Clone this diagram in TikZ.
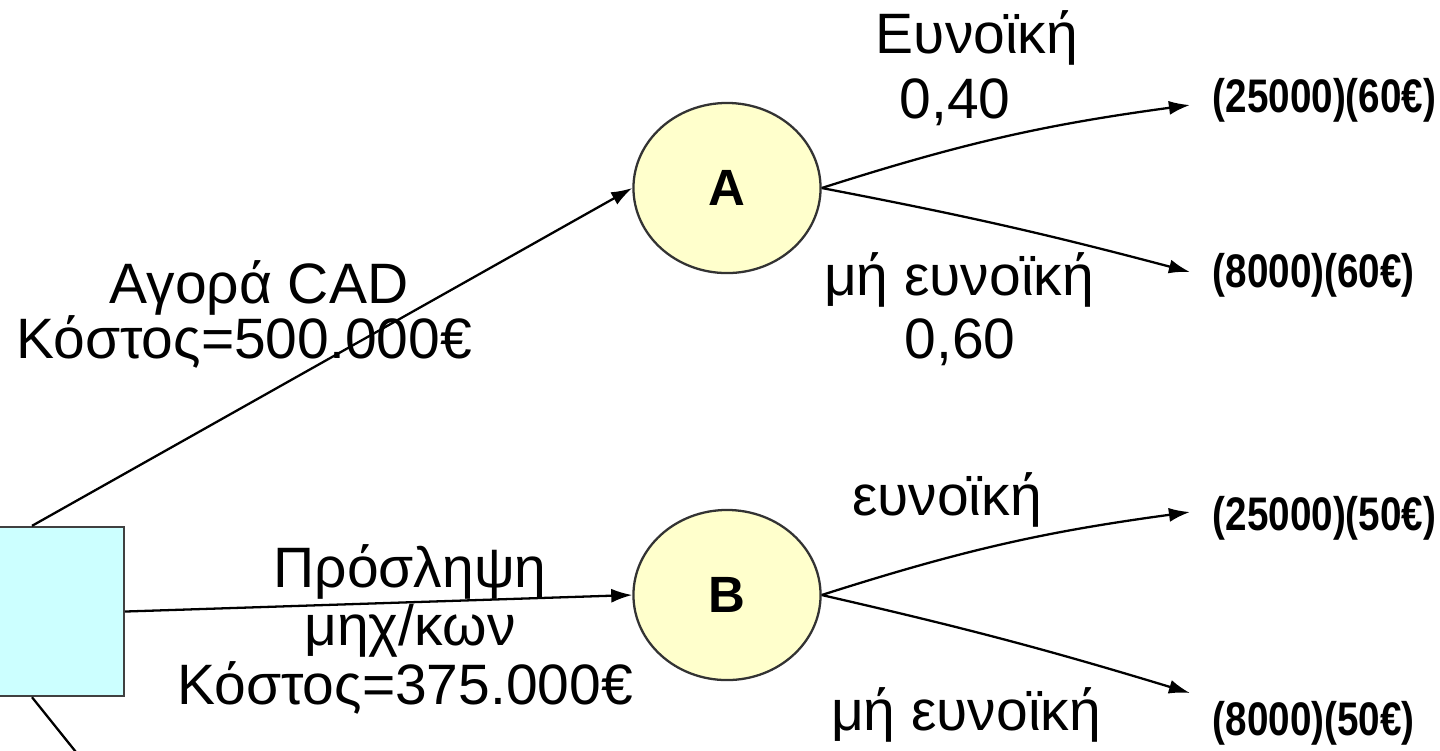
\documentclass[tikz,border=0pt]{standalone}
\usepackage{fontspec}
\setmainfont{Liberation Sans}
\newfontfamily\narrowfont[FakeStretch=0.82]{Liberation Sans}
\usetikzlibrary{shapes,arrows.meta}
\definecolor{boxcyan}{RGB}{204,255,255}
\definecolor{nodeyellow}{RGB}{255,255,204}
\tikzstyle{dec} = [rectangle, minimum width=1.84cm, minimum height=1.69cm, draw=black!75, fill=boxcyan, line width=0.65pt]
\tikzstyle{ch} = [ellipse, minimum width=1.87cm, minimum height=1.70cm, inner sep=0pt, draw=black!80, fill=nodeyellow, line width=0.65pt, font=\fontsize{14.5}{17}\selectfont\bfseries]
\tikzstyle{lbl} = [anchor=base, inner sep=0pt, font=\fontsize{16.2}{19}\selectfont]
\tikzstyle{pay} = [anchor=base west, inner sep=0pt, font=\narrowfont\fontsize{13.4}{16}\selectfont\bfseries]
\tikzstyle{br} = [-{Latex[length=6pt,width=4pt]}, line width=0.65pt]

\begin{document}
\begin{tikzpicture}[x=0.01cm, y=-0.01cm]
		\clip (0,0) rectangle (1440,750);
		\node[dec](d) at (32,611.5){};
		\node[ch](A) at (727,188){A};
		\node[ch](B) at (727,595){B};
		% ends of the branches
		\coordinate (a1) at (1190,105);
		\coordinate (a2) at (1190,272);
		\coordinate (b1) at (1190,512);
		\coordinate (b2) at (1190,693);
		\coordinate (c) at (96,777);
		\draw[br] (d.north)--(A.west);
		\draw[br] (d.east)--(B.west);
		\draw[line width=0.65pt] (d.south)--(c);
		\draw[br] (A.east) to[bend left=5] (a1);
		\draw[br] (A.east) to[bend left=2] (a2);
		\draw[br] (B.east) to[bend left=5] (b1);
		\draw[br] (B.east) to[bend left=2] (b2);
		% labels on the branches
		\node[lbl] at (259,303){Αγορά CAD};
		\node[lbl] at (244,358){Κόστος=500.000€};
		\node[lbl] at (410,587){Πρόσληψη};
		\node[lbl] at (410,645){μηχ/κων};
		\node[lbl] at (405,704){Κόστος=375.000€};
		\node[lbl] at (977,53){Ευνοϊκή};
		\node[lbl] at (955,118){0,40};
		\node[lbl] at (959,295){μή ευνοϊκή};
		\node[lbl] at (960,358){0,60};
		\node[lbl] at (947,515){ευνοϊκή};
		\node[lbl] at (966,730){μή ευνοϊκή};
		% payoffs
		\node[pay] at (1212,112){(25000)(60€)};
		\node[pay] at (1212,287){(8000)(60€)};
		\node[pay] at (1212,530){(25000)(50€)};
		\node[pay] at (1212,735){(8000)(50€)};
\end{tikzpicture}
\end{document}
